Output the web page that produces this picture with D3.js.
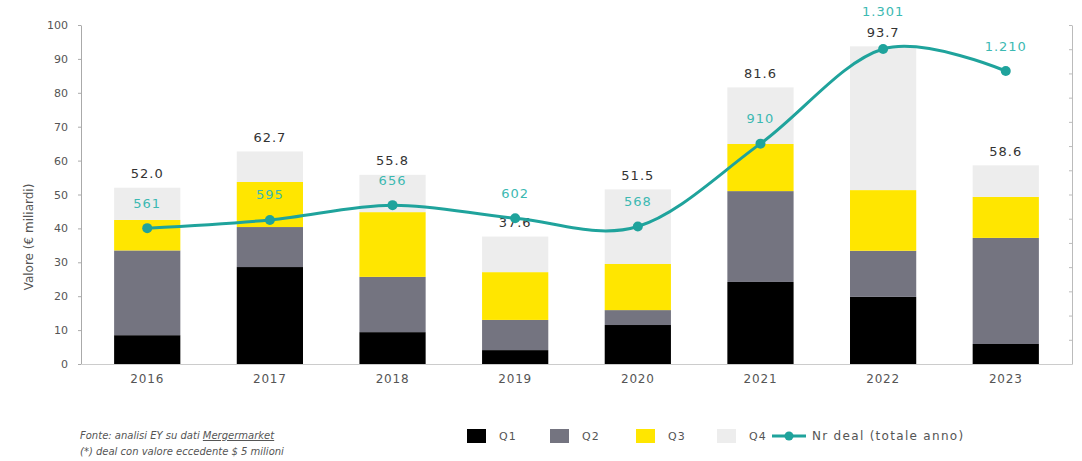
<!DOCTYPE html>
<html>
<head>
<meta charset="utf-8">
<script src="https://cdn.jsdelivr.net/npm/d3@7"></script>
<style>
  html, body { margin: 0; padding: 0; background: #fff; }
  svg { display: block; font-family: "DejaVu Sans", "Open Sans", sans-serif; }
</style>
</head>
<body>
<svg id="chart" width="1082" height="461"></svg>
<script>
// Deal value by quarter (€ bn) and yearly deal count
const years = ["2016", "2017", "2018", "2019", "2020", "2021", "2022", "2023"];
const quarters = ["Q1", "Q2", "Q3", "Q4"];
const q1 = [8.5, 28.6, 9.4, 4.1, 11.5, 24.2, 19.8, 5.9];
const q2 = [25.0, 11.8, 16.3, 8.9, 4.4, 26.8, 13.6, 31.3];
const q3 = [9.0, 13.3, 19.1, 14.1, 13.6, 13.9, 17.9, 12.1];
const q4 = [9.5, 9.0, 11.0, 10.5, 22.0, 16.7, 42.4, 9.3];
const totals = [52.0, 62.7, 55.8, 37.6, 51.5, 81.6, 93.7, 58.6];
const dealCounts = [561, 595, 656, 602, 568, 910, 1301, 1210];
const leftTicks = [0, 10, 20, 30, 40, 50, 60, 70, 80, 90, 100];
const rightTicks = d3.range(0, 1401, 100);
const countLabels = ["561", "595", "656", "602", "568", "910", "1.301", "1.210"];
const lineLabel = "Nr deal (totale anno)";
const yTitle = "Valore (€ miliardi)";
const sourceNote = ["Fonte: analisi EY su dati ", "Mergermarket"];
const footNote = "(*) deal con valore eccedente $ 5 milioni";

const colors = { Q1: "#000000", Q2: "#747480", Q3: "#FFE600", Q4: "#EDEDED" };
const teal = "#1FA39C";
const tealText = "#3CB9B2";

const svg = d3.select("#chart");
const plot = { left: 81, right: 1072, top: 25, bottom: 364 };

const x = d3.scaleBand().domain(years).range([plot.left, plot.right]).paddingInner(0.46).paddingOuter(0.27);
const y = d3.scaleLinear().domain([0, 100]).range([plot.bottom, plot.top]);
const yCount = d3.scaleLinear().domain([0, 1400]).range([plot.bottom, plot.top]);

// Stacked bars
const rows = years.map((yr, i) => ({ year: yr, Q1: q1[i], Q2: q2[i], Q3: q3[i], Q4: q4[i] }));
const stack = d3.stack().keys(quarters)(rows);

svg.append("g").selectAll("g")
  .data(stack)
  .join("g")
  .attr("fill", d => colors[d.key])
  .selectAll("rect")
  .data(d => d)
  .join("rect")
  .attr("x", d => x(d.data.year))
  .attr("width", x.bandwidth())
  .attr("y", d => y(d[1]))
  .attr("height", d => y(d[0]) - y(d[1]));

// Left axis
const gLeft = svg.append("g")
  .attr("transform", `translate(${plot.left},0)`)
  .call(d3.axisLeft(y).tickValues(leftTicks).tickSize(3).tickSizeOuter(0).tickPadding(10));
gLeft.select(".domain").attr("stroke", "#aaa");
gLeft.selectAll(".tick line").attr("stroke", "#aaa");
gLeft.selectAll(".tick text").attr("fill", "#555").style("font-size", "11px").attr("font-family", "DejaVu Sans");

// Right axis (deal count scale, unlabeled)
const gRight = svg.append("g")
  .attr("transform", `translate(${plot.right},0)`)
  .call(d3.axisLeft(yCount).tickValues(rightTicks).tickSize(3).tickSizeOuter(0).tickFormat(""));
gRight.select(".domain").attr("stroke", "#bbb");
gRight.selectAll(".tick line").attr("stroke", "#bbb");

// Baseline and year labels
const gBottom = svg.append("g")
  .attr("transform", `translate(0,${plot.bottom})`)
  .call(d3.axisBottom(x).tickSize(0).tickPadding(10));
gBottom.select(".domain").attr("stroke", "#ccc");
gBottom.selectAll(".tick text").attr("fill", "#555").style("font-size", "12px")
  .style("letter-spacing", "0.8px").attr("font-family", "DejaVu Sans");

// Y title
svg.append("text")
  .attr("transform", `translate(33,237) rotate(-90)`)
  .attr("text-anchor", "middle")
  .attr("fill", "#555")
  .style("font-size", "12px")
  .text(yTitle);

// Total value labels
const totalLabelY = totals.map(t => y(t) - 14);
svg.append("g").selectAll("text")
  .data(totals)
  .join("text")
  .attr("x", (d, i) => x(years[i]) + x.bandwidth() / 2)
  .attr("y", (d, i) => totalLabelY[i])
  .attr("dy", "0.35em")
  .attr("text-anchor", "middle")
  .attr("fill", "#333")
  .style("font-size", "13px")
  .style("letter-spacing", "1px")
  .text(d => d.toFixed(1));

// Deal count line
const cx = i => x(years[i]) + x.bandwidth() / 2;
const line = d3.line()
  .x((d, i) => cx(i))
  .y(d => yCount(d))
  .curve(d3.curveCatmullRom.alpha(0));

svg.append("path")
  .datum(dealCounts)
  .attr("d", line)
  .attr("fill", "none")
  .attr("stroke", teal)
  .attr("stroke-width", 3);

svg.append("g").selectAll("circle")
  .data(dealCounts)
  .join("circle")
  .attr("cx", (d, i) => cx(i))
  .attr("cy", d => yCount(d))
  .attr("r", 5)
  .attr("fill", teal);

// Count labels, lifted above the total label when they would collide
svg.append("g").selectAll("text")
  .data(dealCounts)
  .join("text")
  .attr("x", (d, i) => cx(i))
  .attr("y", (d, i) => {
    let ly = yCount(d) - 25;
    if (Math.abs(ly - totalLabelY[i]) < 14) ly = totalLabelY[i] - 21;
    return ly;
  })
  .attr("dy", "0.35em")
  .attr("text-anchor", "middle")
  .attr("fill", tealText)
  .style("font-size", "13px")
  .style("letter-spacing", "1px")
  .text((d, i) => countLabels[i]);

// Legend
const legend = svg.append("g").attr("transform", "translate(0,436)");
const legendItems = [
  { key: "Q1", x: 467 },
  { key: "Q2", x: 550 },
  { key: "Q3", x: 636 },
  { key: "Q4", x: 717 }
];
legendItems.forEach(it => {
  legend.append("rect")
    .attr("x", it.x).attr("y", -7)
    .attr("width", 19).attr("height", 14)
    .attr("fill", colors[it.key]);
  legend.append("text")
    .attr("x", it.x + 32).attr("y", 0).attr("dy", "0.35em")
    .attr("fill", "#555").style("font-size", "11px").style("letter-spacing", "1px")
    .text(it.key);
});
legend.append("line")
  .attr("x1", 772).attr("x2", 806).attr("y1", 0).attr("y2", 0)
  .attr("stroke", teal).attr("stroke-width", 3);
legend.append("circle").attr("cx", 789).attr("cy", 0).attr("r", 4.5).attr("fill", teal);
legend.append("text")
  .attr("x", 812).attr("y", 0).attr("dy", "0.35em")
  .attr("fill", "#555").style("font-size", "12px").style("letter-spacing", "1.3px")
  .text(lineLabel);

// Source notes
const note = svg.append("text")
  .attr("x", 80).attr("y", 439)
  .attr("fill", "#555").style("font-size", "10px").style("font-style", "italic");
note.append("tspan").text(sourceNote[0]);
note.append("tspan").style("text-decoration", "underline").text(sourceNote[1]);
svg.append("text")
  .attr("x", 80).attr("y", 455)
  .attr("fill", "#555").style("font-size", "10px").style("font-style", "italic")
  .text(footNote);
</script>
</body>
</html>
